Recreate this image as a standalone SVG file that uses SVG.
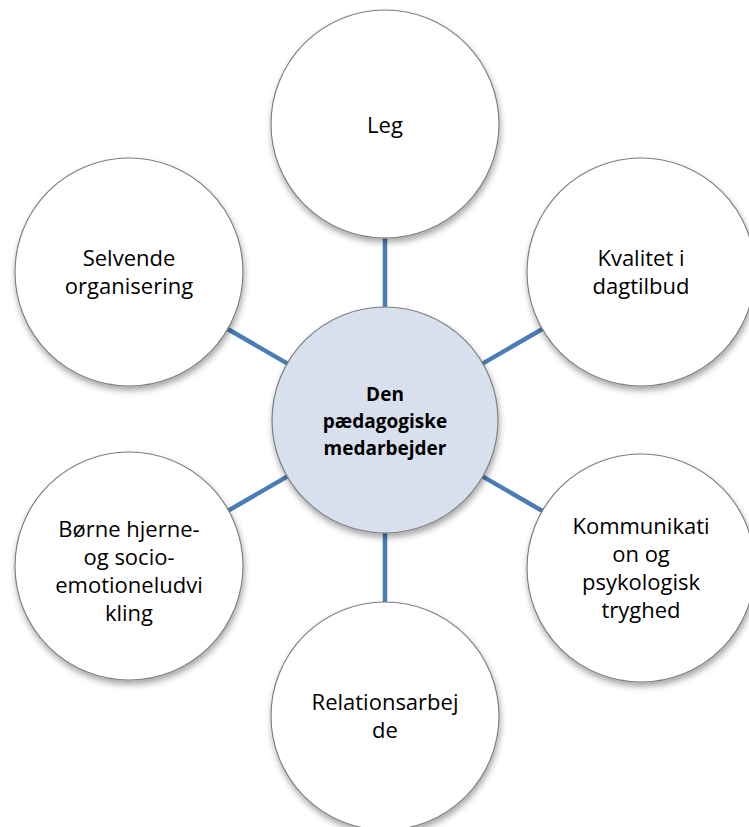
<svg xmlns="http://www.w3.org/2000/svg" width="749" height="827" viewBox="0 0 749 827">
<defs>
<filter id="sh" x="-20%" y="-20%" width="140%" height="140%">
<feDropShadow dx="1" dy="4" stdDeviation="3" flood-color="#000" flood-opacity="0.35"/>
</filter>
<style>
.c{fill:#fff;stroke:#7f7f7f;stroke-width:1.2;filter:url(#sh)}
.cc{fill:#d8e0ee;stroke:#7f7f7f;stroke-width:1.2;filter:url(#sh)}
.t{font-family:"Open Sans","Liberation Sans",sans-serif;font-size:22px;fill:#000;text-anchor:middle}
.tb{font-family:"Open Sans","Liberation Sans",sans-serif;font-size:19px;font-weight:bold;fill:#000;text-anchor:middle}
.ln{stroke:#4a7db5;stroke-width:4.5}
</style>
</defs>
<rect width="749" height="827" fill="#fff"/>
<g id="connectors">
<line class="ln" x1="385" y1="420" x2="385" y2="124"/>
<line class="ln" x1="385" y1="420" x2="641" y2="272"/>
<line class="ln" x1="385" y1="420" x2="641" y2="568"/>
<line class="ln" x1="385" y1="420" x2="385" y2="716"/>
<line class="ln" x1="385" y1="420" x2="129" y2="568"/>
<line class="ln" x1="385" y1="420" x2="129" y2="272"/>
</g>
<g id="leg">
<circle class="c" cx="385" cy="124" r="114"/>
<text class="t" x="385" y="133">Leg</text>
</g>
<g id="kvalitet">
<circle class="c" cx="641" cy="272" r="114"/>
<text class="t" x="641" y="266">Kvalitet i</text>
<text class="t" x="641" y="294">dagtilbud</text>
</g>
<g id="kommunikation">
<circle class="c" cx="641" cy="568" r="114"/>
<text class="t" x="641" y="534">Kommunikati</text>
<text class="t" x="641" y="562">on og</text>
<text class="t" x="641" y="590">psykologisk</text>
<text class="t" x="641" y="618">tryghed</text>
</g>
<g id="relationsarbejde">
<circle class="c" cx="385" cy="716" r="114"/>
<text class="t" x="385" y="710">Relationsarbej</text>
<text class="t" x="385" y="738">de</text>
</g>
<g id="boerne">
<circle class="c" cx="129" cy="566" r="114"/>
<text class="t" x="129" y="537">Børne hjerne-</text>
<text class="t" x="129" y="565">og socio-</text>
<text class="t" x="129" y="593">emotioneludvi</text>
<text class="t" x="129" y="621">kling</text>
</g>
<g id="selvende">
<circle class="c" cx="129" cy="272" r="114"/>
<text class="t" x="129" y="266">Selvende</text>
<text class="t" x="129" y="294">organisering</text>
</g>
<g id="center">
<circle class="cc" cx="385" cy="420" r="113"/>
<text class="tb" x="385" y="401">Den</text>
<text class="tb" x="385" y="428">pædagogiske</text>
<text class="tb" x="385" y="455">medarbejder</text>
</g>
</svg>
